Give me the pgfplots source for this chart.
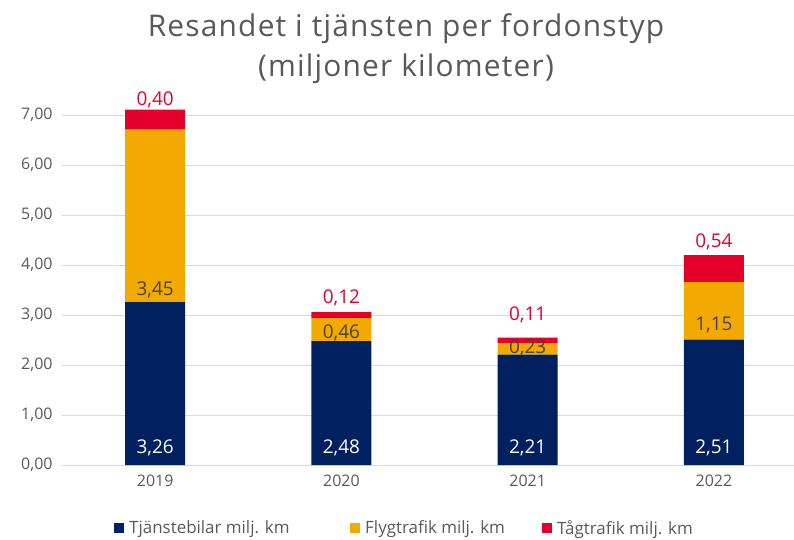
\documentclass[border=0pt]{standalone}
\usepackage{pgfplots}
\pgfplotsset{compat=1.18}
\usepackage{fontspec}
\setmainfont{Open Sans}
\definecolor{navy}{HTML}{002060}
\definecolor{amber}{HTML}{F2A900}
\definecolor{redc}{HTML}{E4002B}
\definecolor{txt}{HTML}{595959}
\definecolor{gridc}{HTML}{D9D9D9}
\definecolor{ambertxt}{HTML}{4D4226}
\newcommand{\lbl}{\fontsize{19}{22}\selectfont}
\begin{document}
\begin{tikzpicture}
\useasboundingbox (0,0) rectangle (794bp,540bp);
\node[font=\fontsize{30}{36}\selectfont\addfontfeature{LetterSpace=4}, text=txt, anchor=base] at (406bp,503bp) {Resandet i tjänsten per fordonstyp};
\node[font=\fontsize{30}{36}\selectfont\addfontfeature{LetterSpace=4}, text=txt, anchor=base] at (406bp,463bp) {(miljoner kilometer)};
\begin{axis}[
  at={(62bp,75bp)}, anchor=south west,
  scale only axis, width=732bp, height=350bp,
  ybar stacked, bar width=60bp,
  ymin=0, ymax=7, xmin=-0.5, xmax=3.43,
  clip=false,
  ytick={0,1,2,3,4,5,6,7},
  xtick={0,1,2,3}, xticklabels={2019,2020,2021,2022},
  ymajorgrids, grid style={gridc, line width=0.8pt},
  axis line style={draw=none},
  major tick length=0pt,
  yticklabel style={text=txt, font=\fontsize{16}{18}\selectfont, xshift=-6bp,
    /pgf/number format/fixed, /pgf/number format/fixed zerofill,
    /pgf/number format/precision=2, /pgf/number format/use comma,
    /pgf/number format/assume math mode=true},
  xticklabel style={text=txt, font=\fontsize{16}{18}\selectfont, yshift=-6bp},
  legend columns=3,
  legend style={at={(0.0711,-0.18)}, anchor=west, draw=none, fill=none, inner sep=0pt,
    font=\fontsize{17}{20}\selectfont, text=txt,
    /tikz/every even column/.append style={column sep=0bp}},
  legend image code/.code={\fill[#1] (0bp,-5bp) rectangle (10bp,5bp);},
  after end axis/.code={
    \node[text=white, font=\lbl] at (axis cs:0,0.34) {3,26};
    \node[text=white, font=\lbl] at (axis cs:1,0.34) {2,48};
    \node[text=white, font=\lbl] at (axis cs:2,0.34) {2,21};
    \node[text=white, font=\lbl] at (axis cs:3,0.34) {2,51};
    \node[text=ambertxt, font=\lbl] at (axis cs:0,3.50) {3,45};
    \node[text=ambertxt, font=\lbl] at (axis cs:1,2.64) {0,46};
    \node[text=ambertxt, font=\lbl] at (axis cs:2,2.34) {0,23};
    \node[text=ambertxt, font=\lbl] at (axis cs:3,2.80) {1,15};
    \node[text=redc, font=\lbl] at (axis cs:0,7.30) {0,40};
    \node[text=redc, font=\lbl] at (axis cs:1,3.34) {0,12};
    \node[text=redc, font=\lbl] at (axis cs:2,3.00) {0,11};
    \node[text=redc, font=\lbl] at (axis cs:3,4.46) {0,54};
  },
]
\addplot[fill=navy, draw=none] coordinates {(0,3.26) (1,2.48) (2,2.21) (3,2.51)};
\addplot[fill=amber, draw=none] coordinates {(0,3.45) (1,0.46) (2,0.23) (3,1.15)};
\addplot[fill=redc, draw=none] coordinates {(0,0.40) (1,0.12) (2,0.11) (3,0.54)};
\legend{\makebox[222bp][l]{\hspace{3bp}Tjänstebilar milj. km}, \makebox[178bp][l]{\hspace{3bp}Flygtrafik milj. km}, \hspace{3bp}Tågtrafik milj. km}
\end{axis}
\end{tikzpicture}
\end{document}
